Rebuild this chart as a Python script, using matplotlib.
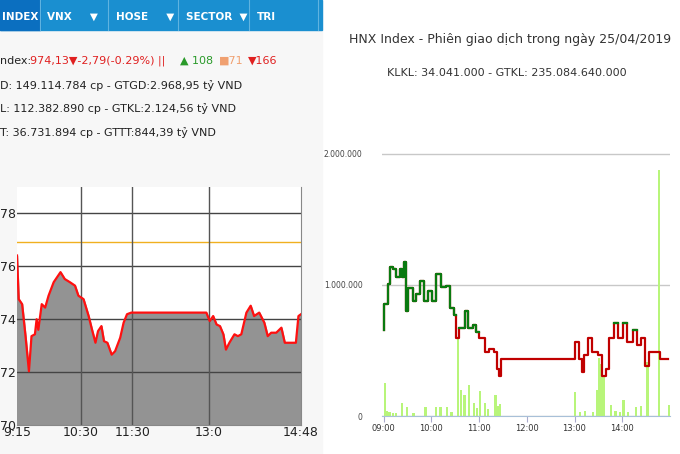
import matplotlib.pyplot as plt
from matplotlib.patches import Rectangle
import numpy as np

# left panel: VN-Index intraday (minutes after 9:15)
vn_min = [0, 2, 6, 10, 14, 17, 21, 23, 25, 29, 33, 37, 43, 51, 56, 62, 68, 72, 78, 84, 88, 92, 95, 99,
          102, 106, 111, 115, 121, 125, 129, 134, 222, 226, 230, 234, 238, 242, 245, 249, 255, 259, 263,
          269, 274, 278, 284, 290, 294, 298, 304, 310, 314, 327, 330, 333]
vn_val = [976.41, 974.76, 974.57, 973.36, 972.03, 973.36, 973.43, 974.0, 973.6, 974.57, 974.44, 974.89,
          975.40, 975.78, 975.52, 975.40, 975.27, 974.89, 974.76, 974.12, 973.6, 973.11, 973.55, 973.74,
          973.17, 973.11, 972.66, 972.79, 973.30, 973.87, 974.19, 974.25, 974.25, 973.93, 974.12, 973.80,
          973.74, 973.43, 972.85, 973.11, 973.43, 973.36, 973.43, 974.25, 974.51, 974.12, 974.25, 973.87,
          973.36, 973.49, 973.49, 973.68, 973.11, 973.11, 974.12, 974.19]
vn_ref = 976.92
vn_ticks = [0, 75, 135, 225, 333]
vn_ticklabels = ["9:15", "10:30", "11:30", "13:0", "14:48"]

# right panel: HNX (minutes after 9:00), line in chart units, volume in shares
hnx_min = [0, 1, 5, 8, 12, 16, 20, 23, 26, 28, 31, 37, 41, 46, 51, 56, 61, 66, 72, 79, 83, 88, 91, 95,
           102, 106, 112, 116, 120, 127, 133, 139, 142, 145, 148, 239, 241, 245, 249, 252, 257, 262, 269,
           274, 279, 283, 290, 295, 301, 306, 313, 318, 323, 328, 333, 346, 348, 358]
hnx_val = [0.657, 0.852, 1.008, 1.138, 1.125, 1.06, 1.125, 1.06, 1.177, 0.8, 0.98, 0.878, 0.93, 1.034,
           0.878, 0.956, 0.878, 1.086, 0.982, 0.995, 0.826, 0.774, 0.592, 0.67, 0.8, 0.67, 0.696, 0.644,
           0.592, 0.488, 0.514, 0.488, 0.358, 0.306, 0.436, 0.436, 0.566, 0.436, 0.332, 0.462, 0.592,
           0.488, 0.462, 0.306, 0.358, 0.592, 0.709, 0.592, 0.709, 0.566, 0.657, 0.54, 0.592, 0.384,
           0.488, 0.488, 0.436, 0.436]
hnx_ref = 0.64
vol_min = [0, 3, 6, 10, 14, 22, 28, 36, 51, 64, 70, 78, 84, 92, 96, 100, 106, 112, 116, 120, 126, 130,
           139, 142, 145, 239, 245, 252, 262, 267, 269, 272, 275, 284, 290, 296, 300, 306, 316, 322, 330,
           345, 358]
vol_val = [254000, 40000, 30000, 25000, 20000, 100000, 70000, 20000, 70000, 70000, 70000, 70000, 30000,
           590000, 200000, 160000, 240000, 100000, 60000, 190000, 100000, 50000, 160000, 80000, 90000,
           180000, 30000, 40000, 30000, 200000, 440000, 400000, 300000, 85000, 40000, 30000, 125000,
           30000, 70000, 80000, 410000, 1880000, 85000]

fig = plt.figure(figsize=(6.8, 4.54), dpi=100)
W, H = 680, 454


def box(x0, y0, x1, y1):
    return [x0 / W, 1 - y1 / H, (x1 - x0) / W, (y1 - y0) / H]


# left screenshot background and header
fig.patches.append(Rectangle((0, 0), 322 / W, 1, transform=fig.transFigure, color="#f7f7f7", zorder=-5))
fig.patches.append(Rectangle((0, 1 - 30 / H), 322 / W, 30 / H, transform=fig.transFigure, color="#1a8fd0", zorder=-4))
fig.patches.append(Rectangle((0, 1 - 30 / H), 40 / W, 30 / H, transform=fig.transFigure, color="#0b6fc0", zorder=-3))
for x, t in [(2, "INDEX"), (47, "VNX     \u25bc"), (116, "HOSE     \u25bc"), (186, "SECTOR  \u25bc"), (257, "TRI")]:
    fig.text(x / W, 1 - 17 / H, t, color="white", fontsize=7.5, weight="bold", va="center")
for x in [40, 108, 178, 249, 318]:
    fig.add_artist(plt.Line2D([x / W] * 2, [1 - 30 / H, 1], color="#5fb3e0", lw=0.8))

y = 1 - 61 / H
fig.text(0, y, "ndex:", fontsize=8, va="center", color="#222")
fig.text(30 / W, y, "974,13\u25bc-2,79(-0.29%) ||", fontsize=8, va="center", color="#e02020")
fig.text(180 / W, y, "\u25b2 108", fontsize=8, va="center", color="#2a9a2a")
fig.text(219 / W, y, "\u25a071", fontsize=8, va="center", color="#f0a070")
fig.text(248 / W, y, "\u25bc166", fontsize=8, va="center", color="#e02020")
fig.text(0, 1 - 86 / H, "D: 149.114.784 cp - GTGD:2.968,95 t\u1ef7 VND", fontsize=8, va="center", color="#222")
fig.text(0, 1 - 109 / H, "L: 112.382.890 cp - GTKL:2.124,56 t\u1ef7 VND", fontsize=8, va="center", color="#222")
fig.text(0, 1 - 133 / H, "T: 36.731.894 cp - GTTT:844,39 t\u1ef7 VND", fontsize=8, va="center", color="#222")

# left chart
ax = fig.add_axes(box(17, 187, 301, 425))
ax.set_facecolor("white")
ax.fill_between(vn_min, vn_val, 970, color="#939393", zorder=1)
ax.plot(vn_min, vn_val, color="#ff1010", lw=1.6, zorder=3)
ax.axhline(vn_ref, color="#f0b020", lw=1, zorder=2)
for v in [972, 974, 976, 978]:
    ax.axhline(v, color="#444", lw=1, zorder=2)
for m in vn_ticks[1:4]:
    ax.axvline(m, color="#555", lw=1, zorder=2)
ax.set_xlim(0, 333)
ax.set_ylim(970, 979)
ax.set_yticks([970, 972, 974, 976, 978])
ax.set_yticklabels(["70", "72", "74", "76", "78"])
ax.set_xticks(vn_ticks)
ax.set_xticklabels(vn_ticklabels)
ax.tick_params(length=0, labelsize=9, colors="#222", pad=1)
for s in ax.spines.values():
    s.set_visible(False)
ax.spines["right"].set_visible(True)
ax.spines["right"].set_color("#888")
ax.spines["bottom"].set_visible(True)
ax.spines["bottom"].set_color("#888")

# right chart
fig.text(510 / W, 1 - 40 / H, "HNX Index - Phi\u00ean giao d\u1ecbch trong ng\u00e0y 25/04/2019",
         ha="center", va="center", fontsize=9, color="#333")
fig.text(507 / W, 1 - 73 / H, "KLKL: 34.041.000 - GTKL: 235.084.640.000",
         ha="center", va="center", fontsize=8, color="#333")
ax2 = fig.add_axes(box(382, 150, 670, 416))
ax2.bar(vol_min, vol_val, width=3, color="#b8f57a", align="edge", zorder=2)
ax2.set_ylim(0, 2030000)
ax2.set_xlim(-2, 360)
ax2.set_yticks([0, 1000000, 2000000])
ax2.set_yticklabels(["0", "1.000.000", "2.000.000"], fontsize=5.5, color="#444")
ax2.set_xticks([0, 60, 120, 180, 240, 300])
ax2.set_xticklabels(["09:00", "10:00", "11:00", "12:00", "13:00", "14:00"], fontsize=6, color="#333")
ax2.tick_params(axis="y", length=0, pad=14)
ax2.tick_params(axis="x", length=4, color="#aac", pad=2)
ax2.grid(axis="y", color="#c8c8c8", lw=1)
ax2.set_axisbelow(True)
for s in ["top", "right", "left"]:
    ax2.spines[s].set_visible(False)
ax2.spines["bottom"].set_color("#a8c0d8")

tw = ax2.twinx()
ys = np.array(hnx_val)
tw.step(hnx_min, ys, where="post", color="#c00000", lw=1.6)
tw.step(hnx_min, np.ma.masked_where(ys < hnx_ref, ys), where="post", color="#0a7a10", lw=1.6)
tw.set_ylim(0, 2.03)
tw.axis("off")

fig.savefig("out.png", dpi=100)
